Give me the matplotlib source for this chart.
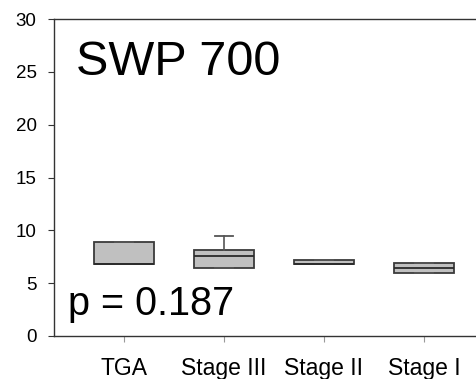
import matplotlib
matplotlib.use("Agg")
import matplotlib.pyplot as plt

plt.rcParams['font.family'] = ['Liberation Sans', 'DejaVu Sans']

# box plot summary per group
groups = ['TGA', 'Stage III', 'Stage II', 'Stage I']
whislo = [6.8, 6.42, 6.8, 5.93]
q1 = [6.8, 6.46, 6.8, 5.93]
med = [6.8, 7.57, 6.8, 6.43]
q3 = [8.9, 8.17, 7.15, 6.88]
whishi = [8.9, 9.46, 7.15, 6.88]

title = 'SWP 700'
p_text = 'p = 0.187'

stats = []
for i, name in enumerate(groups):
    stats.append(dict(label=name, whislo=whislo[i], q1=q1[i], med=med[i],
                      q3=q3[i], whishi=whishi[i], fliers=[]))

fig = plt.figure(figsize=(4.77, 3.79), dpi=100)
ax = fig.add_axes([54 / 477, 43 / 379, 423 / 477, 317 / 379])

edge = '#3a3a3a'
ax.bxp(stats, positions=[1, 2, 3, 4], widths=0.6, patch_artist=True,
       showfliers=False,
       boxprops=dict(facecolor='#c0c0c0', edgecolor=edge, linewidth=1.3),
       medianprops=dict(color='#2a2a2a', linewidth=1.3),
       whiskerprops=dict(color='#555555', linewidth=1.2),
       capprops=dict(color='#555555', linewidth=1.3),
       capwidths=0.18)

ax.set_xlim(0.3, 4.53)
ax.set_ylim(0, 30)
ax.set_yticks([0, 5, 10, 15, 20, 25, 30])
ax.set_xticks([1, 2, 3, 4])
ax.set_xticklabels(groups)

for side in ['left', 'top', 'bottom']:
    ax.spines[side].set_color('#333333')
    ax.spines[side].set_linewidth(1.0)
ax.spines['right'].set_visible(False)

ax.tick_params(axis='y', direction='out', length=4.5, width=0.8,
               color='#333333', labelsize=13.5, pad=8)
ax.tick_params(axis='x', direction='out', length=4, width=0.8,
               color='#999999', labelsize=16.5, pad=11)

ax.text(0.52, 24.7, title, fontsize=35, ha='left', va='baseline')
ax.text(0.44, 2.0, p_text, fontsize=28.5, ha='left', va='baseline')

fig.savefig('out.png', dpi=100)
